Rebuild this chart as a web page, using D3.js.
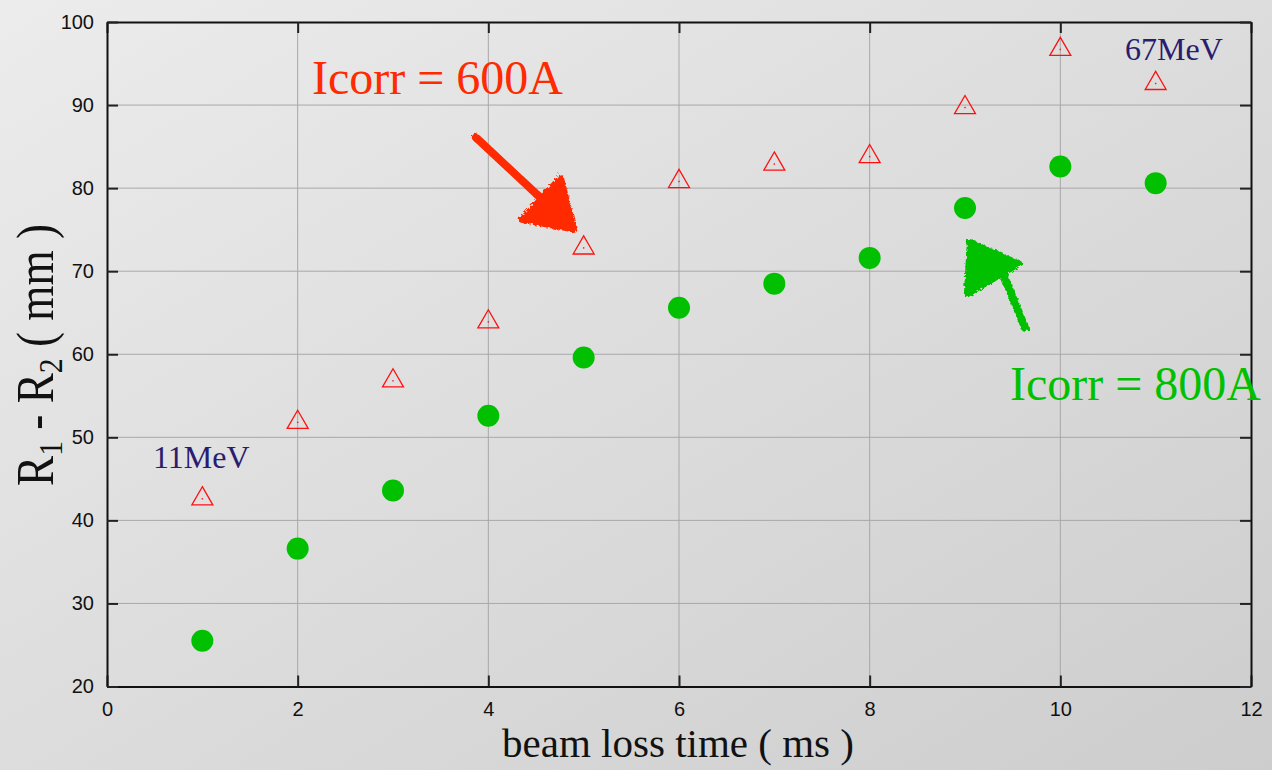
<!DOCTYPE html>
<html><head><meta charset="utf-8">
<script src="https://cdn.jsdelivr.net/npm/d3@7"></script>
<style>html,body{margin:0;padding:0;}svg{display:block;}</style>
</head><body>
<svg id="chart" width="1272" height="770"></svg>
<script>
const times = [1,2,3,4,5,6,7,8,9,10,11];
const icorr600 = [42.6,51.8,56.8,63.9,72.8,80.8,82.9,83.8,89.7,96.7,92.6];
const icorr800 = [25.5,36.6,43.6,52.6,59.6,65.6,68.5,71.6,77.6,82.6,80.6];
const xTicks = [0,2,4,6,8,10,12];
const yTicks = [20,30,40,50,60,70,80,90,100];
// arrow annotations in data units
const redArrow = {tail:[3.87,86.1], head:[[4.35,76.2],[4.76,81.3],[4.9,75.0]]};
const greenArrow = {tail:[9.63,63.2], head:[[9.05,73.5],[9.57,70.9],[9.02,67.2]]};

const svg = d3.select('#chart');
const W = 1272, H = 770;
const defs = svg.append('defs');
const grad = defs.append('linearGradient').attr('id','bg').attr('x1','0').attr('y1','0').attr('x2','1').attr('y2','1');
grad.append('stop').attr('offset','0').attr('stop-color','#ececec');
grad.append('stop').attr('offset','1').attr('stop-color','#cdcdcd');
svg.append('rect').attr('width',W).attr('height',H).attr('fill','url(#bg)');
const rough = defs.append('filter').attr('id','rough').attr('x','-20%').attr('y','-20%').attr('width','140%').attr('height','140%');
rough.append('feTurbulence').attr('type','fractalNoise').attr('baseFrequency',0.35).attr('numOctaves',2).attr('seed',3).attr('result','n');
rough.append('feDisplacementMap').attr('in','SourceGraphic').attr('in2','n').attr('scale',5);

const x = d3.scaleLinear().domain([0,12]).range([107,1251]);
const y = d3.scaleLinear().domain([20,100]).range([686.5,22]);

// grid
const g = svg.append('g');
g.selectAll('.vg').data(xTicks.slice(1,-1)).enter().append('line')
  .attr('x1',d=>x(d)).attr('x2',d=>x(d)).attr('y1',y(100)).attr('y2',y(20))
  .attr('stroke','#a8a8a8').attr('stroke-width',1);
g.selectAll('.hg').data(yTicks.slice(1,-1)).enter().append('line')
  .attr('y1',d=>y(d)).attr('y2',d=>y(d)).attr('x1',x(0)).attr('x2',x(12))
  .attr('stroke','#a8a8a8').attr('stroke-width',1);

// axes
const tickStyle = a => a.tickSizeInner(-11).tickSizeOuter(0).tickPadding(12);
const fontTick = 'Liberation Sans, Helvetica, Arial, sans-serif';
const ax = svg.append('g').attr('transform',`translate(0,${y(20)})`)
  .call(tickStyle(d3.axisBottom(x).tickValues(xTicks).tickFormat(d3.format('d'))));
const axTop = svg.append('g').attr('transform',`translate(0,${y(100)})`)
  .call(tickStyle(d3.axisTop(x).tickValues(xTicks)).tickFormat(''));
const ay = svg.append('g').attr('transform',`translate(${x(0)},0)`)
  .call(tickStyle(d3.axisLeft(y).tickValues(yTicks).tickFormat(d3.format('d'))));
const ayR = svg.append('g').attr('transform',`translate(${x(12)},0)`)
  .call(tickStyle(d3.axisRight(y).tickValues(yTicks)).tickFormat(''));
[ax,axTop,ay,ayR].forEach(a=>{
  a.select('.domain').attr('stroke','#111').attr('stroke-width',2);
  a.selectAll('.tick line').attr('stroke','#222').attr('stroke-width',2);
  a.selectAll('text').attr('font-family',fontTick).attr('font-size',20).attr('fill','#111');
});
ax.selectAll('text').attr('dy','0.85em');
ay.selectAll('text').attr('dx','-0.05em');

// arrows
function drawArrow(a,color){
  const tail=[x(a.tail[0]),y(a.tail[1])];
  const h=a.head.map(p=>[x(p[0]),y(p[1])]);
  const mid=[(h[0][0]+h[1][0])/2,(h[0][1]+h[1][1])/2];
  const grp = svg.append('g').attr('filter','url(#rough)');
  grp.append('line').attr('x1',tail[0]).attr('y1',tail[1]).attr('x2',mid[0]).attr('y2',mid[1])
    .attr('stroke',color).attr('stroke-width',8).attr('stroke-linecap','round');
  grp.append('path').attr('d','M'+h.map(q=>q.join(',')).join('L')+'Z')
    .attr('fill',color).attr('stroke',color).attr('stroke-width',6).attr('stroke-linejoin','round');
}
drawArrow(redArrow,'#ff2a00');
drawArrow(greenArrow,'#00c000');

// series
svg.append('g').selectAll('circle').data(times).enter().append('circle')
  .attr('cx',d=>x(d)).attr('cy',(d,i)=>y(icorr800[i])).attr('r',11).attr('fill','#00c000');
const tri = d3.symbol().type(d3.symbolTriangle).size(190);
const tg = svg.append('g');
tg.selectAll('path').data(times).enter().append('path')
  .attr('d',tri).attr('transform',(d,i)=>`translate(${x(d)},${y(icorr600[i])})`)
  .attr('fill','none').attr('stroke','#ff1010').attr('stroke-width',1.3);
tg.selectAll('rect').data(times).enter().append('rect')
  .attr('x',d=>x(d)-0.7).attr('y',(d,i)=>y(icorr600[i])-0.7).attr('width',1.4).attr('height',1.4).attr('fill','#ff1010');

// text annotations
const serif = 'Liberation Serif, Times New Roman, serif';
svg.append('text').attr('x',312).attr('y',94).attr('font-family',serif).attr('font-size',48)
  .attr('fill','#ff2a00').text('Icorr = 600A');
svg.append('text').attr('x',1010).attr('y',400).attr('font-family',serif).attr('font-size',48)
  .attr('fill','#00c000').text('Icorr = 800A');
svg.append('text').attr('x',1125).attr('y',60).attr('font-family',serif).attr('font-size',32)
  .attr('fill','#2a1c6e').text('67MeV');
svg.append('text').attr('x',153).attr('y',468).attr('font-family',serif).attr('font-size',32)
  .attr('fill','#2a1c6e').text('11MeV');

// axis titles
svg.append('text').attr('x',678).attr('y',757).attr('text-anchor','middle').attr('font-family',serif)
  .attr('font-size',41).attr('fill','#111').text('beam loss time ( ms )');
const yl = svg.append('text').attr('transform','translate(53,355) rotate(-90)').attr('text-anchor','middle')
  .attr('font-family',serif).attr('font-size',52).attr('fill','#111')
  .attr('textLength',262).attr('lengthAdjust','spacingAndGlyphs');
yl.append('tspan').text('R');
yl.append('tspan').attr('font-size',34).attr('dy',9).text('1');
yl.append('tspan').attr('dy',-9).text(' - R');
yl.append('tspan').attr('font-size',34).attr('dy',9).text('2');
yl.append('tspan').attr('dy',-9).text(' ( mm )');
</script>
</body></html>
